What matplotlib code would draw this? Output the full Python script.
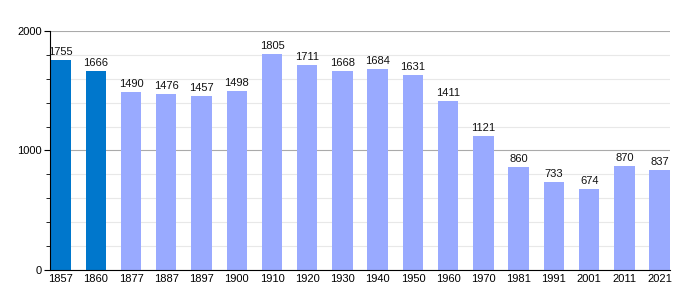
import matplotlib.pyplot as plt
from matplotlib.ticker import MultipleLocator

plt.rcParams['font.family'] = ['Liberation Sans', 'DejaVu Sans']

years = ['1857', '1860', '1877', '1887', '1897', '1900', '1910', '1920', '1930',
         '1940', '1950', '1960', '1970', '1981', '1991', '2001', '2011', '2021']
population = [1755, 1666, 1490, 1476, 1457, 1498, 1805, 1711, 1668,
              1684, 1631, 1411, 1121, 860, 733, 674, 870, 837]
highlight = ['1857', '1860']

colors = ['#0077cc' if y in highlight else '#99aaff' for y in years]

fig = plt.figure(figsize=(7, 3), dpi=100)
ax = fig.add_axes([0.0714, 0.1, 0.886, 0.797])

x = range(len(years))
ax.bar(x, population, width=0.58, color=colors, zorder=2)
for i, v in enumerate(population):
    ax.text(i, v + 25, str(v), ha='center', va='bottom', fontsize=8, color='#111111')

ax.set_xlim(-0.3, len(years) - 0.7)
ax.set_ylim(0, 2000)
ax.set_xticks(list(x))
ax.set_xticklabels(years, fontsize=8)
ax.set_yticks([0, 1000, 2000])
ax.set_yticklabels(['0', '1000', '2000'], fontsize=8)
ax.yaxis.set_minor_locator(MultipleLocator(200))
ax.grid(axis='y', which='major', color='#aaaaaa', linewidth=0.8, zorder=0)
ax.grid(axis='y', which='minor', color='#e8e8e8', linewidth=0.8, zorder=0)
ax.tick_params(axis='x', length=0, pad=3)
ax.tick_params(axis='y', which='major', length=4, pad=2)
ax.tick_params(axis='y', which='minor', length=3)
for s in ['top', 'right']:
    ax.spines[s].set_visible(False)
ax.spines['left'].set_linewidth(0.8)
ax.spines['bottom'].set_linewidth(0.8)

fig.savefig('out.png')
